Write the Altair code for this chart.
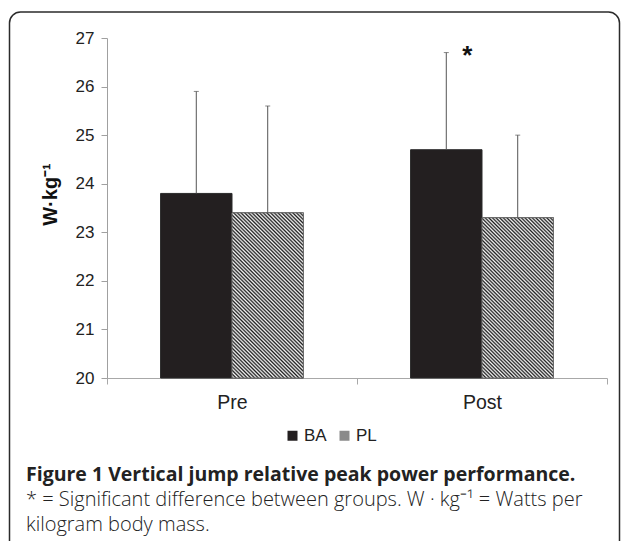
import altair as alt
import pandas as pd

# ---- data ----
conditions = ["Pre", "Post"]
groups = ["BA", "PL"]
ba_mean = [23.8, 24.7]
pl_mean = [23.4, 23.3]
ba_sd = [2.1, 2.0]
pl_sd = [2.2, 1.7]
ba_star = ["", "*"]
y_ticks = [20, 21, 22, 23, 24, 25, 26, 27]
y_title = "W·kg⁻¹"
caption_1 = "Figure 1 Vertical jump relative peak power performance."
caption_2 = "* = Significant difference between groups. W · kg⁻¹ = Watts per"
caption_3 = "kilogram body mass."

rows = []
for i, c in enumerate(conditions):
    rows.append(dict(cond=c, group="BA", mean=ba_mean[i], top=ba_mean[i] + ba_sd[i], star=ba_star[i]))
    rows.append(dict(cond=c, group="PL", mean=pl_mean[i], top=pl_mean[i] + pl_sd[i], star=""))
df = pd.DataFrame(rows)

W, H = 500, 340
PAD = {"left": 99, "top": 30, "right": 14, "bottom": 163}
FONT = "Liberation Sans"
Y0, Y1 = 20, 27
OFFSET_PAD = 0.75
BAR_W = (W / len(conditions)) / (len(groups) + 2 * OFFSET_PAD)


def hatch(bar_h, bar_w=BAR_W, dark="#1e1e1e", light="#f6f6f6"):
    """Fine diagonal '\\' stripes at 45 degrees: a triangle-wave linear gradient
    in bounding-box units, corrected for the bar's aspect ratio."""
    r = bar_h / bar_w
    k = (1 + r) / (1 + r * r)
    stops = []
    for j in range(65):
        for off, col in (((4 * j + 0.5) / 256, dark), ((4 * j + 2.5) / 256, light)):
            if off <= 1:
                stops.append({"offset": round(off, 6), "color": col})
    return {"gradient": "linear", "x1": 0, "y1": 1, "x2": k, "y2": 1 - k * r, "stops": stops}


base = alt.Chart(df)
x_enc = alt.X("cond:N", sort=conditions, scale=alt.Scale(domain=conditions, paddingInner=0, paddingOuter=0),
              axis=alt.Axis(title=None, labelAngle=0, tickBand="extent", tickSize=6,
                            labelFontSize=19.5, labelFont=FONT, labelColor="#222222",
                            labelBaseline="middle", labelPadding=18,
                            domainColor="#a8a8a8", tickColor="#a8a8a8"))
xo_enc = alt.XOffset("group:N", sort=groups,
                     scale=alt.Scale(domain=groups, paddingInner=0, paddingOuter=OFFSET_PAD))
y_scale = alt.Scale(domain=[Y0, Y1], nice=False, zero=False)
y_enc = alt.Y("mean:Q", scale=y_scale,
              axis=alt.Axis(values=y_ticks, title=y_title, tickSize=6, labelFontSize=17, labelFont=FONT,
                            labelColor="#222222", labelPadding=7, domainColor="#a0a0a0", tickColor="#a0a0a0",
                            grid=False, titleFont=FONT, titleFontSize=20, titleFontWeight="bold",
                            titleColor="#111111", titleAngle=270, titleX=-57, titleY=156,
                            titleAlign="center", titleBaseline="middle"))

bars = base.mark_bar(stroke="#2a2a2a", strokeWidth=1).encode(
    x=x_enc, xOffset=xo_enc, y=y_enc, y2=alt.Y2(datum=Y0),
    color=alt.Color("group:N", scale=alt.Scale(domain=groups, range=["#231f20", "#8a8a8a"]),
                    legend=alt.Legend(orient="none", legendX=177, legendY=389, direction="horizontal",
                                      title=None, symbolType="square", symbolSize=100, symbolStrokeWidth=0,
                                      labelFontSize=17, labelFont=FONT, labelColor="#222222",
                                      columnPadding=9, labelOffset=3, padding=0)),
)

layers = [bars]
for i, c in enumerate(conditions):
    h = (pl_mean[i] - Y0) * H / (Y1 - Y0)
    layers.append(
        base.transform_filter(f"datum.group == 'PL' && datum.cond == '{c}'").mark_bar(
            fill=hatch(h), stroke="#707070", strokeWidth=1).encode(
            x=x_enc, xOffset=xo_enc, y=y_enc, y2=alt.Y2(datum=Y0)))

err = base.mark_rule(color="#555555", strokeWidth=1).encode(
    x=x_enc, xOffset=xo_enc, y=y_enc, y2="top:Q")
caps = base.mark_tick(color="#555555", thickness=1, size=5, orient="horizontal").encode(
    x=x_enc, xOffset=xo_enc, y=alt.Y("top:Q", scale=y_scale))
star = base.transform_filter("datum.star != ''").mark_text(
    fontSize=26, fontWeight="bold", font=FONT, color="#111111", dx=21, dy=3, baseline="middle").encode(
    x=x_enc, xOffset=xo_enc, y=alt.Y("top:Q", scale=y_scale), text="star:N")

one = alt.Data(values=[{}])
border = alt.Chart(one).mark_rect(fill="transparent", stroke="#2b2b2b", strokeWidth=1.5, cornerRadius=11).encode(
    x=alt.value(-97.5), x2=alt.value(512.5), y=alt.value(-26), y2=alt.value(620))
cap1 = alt.Chart(one).mark_text(text=caption_1, align="left", baseline="alphabetic", font="Open Sans",
                                fontSize=19.5, fontWeight="bold", color="#222222").encode(
    x=alt.value(-81), y=alt.value(443))
cap2 = alt.Chart(one).mark_text(text=caption_2, align="left", baseline="alphabetic", font="Open Sans",
                                fontSize=20, fontWeight=300, color="#222222").encode(
    x=alt.value(-81), y=alt.value(468))
cap3 = alt.Chart(one).mark_text(text=caption_3, align="left", baseline="alphabetic", font="Open Sans",
                                fontSize=20, fontWeight=300, color="#222222").encode(
    x=alt.value(-81), y=alt.value(493))

chart = alt.layer(*layers, err, caps, star, border, cap1, cap2, cap3).properties(
    width=W, height=H, padding=PAD, autosize=alt.AutoSizeParams(type="none"), background="white"
).configure_view(strokeWidth=0)

chart.save("out.html", embed_options={"renderer": "svg", "actions": False})
